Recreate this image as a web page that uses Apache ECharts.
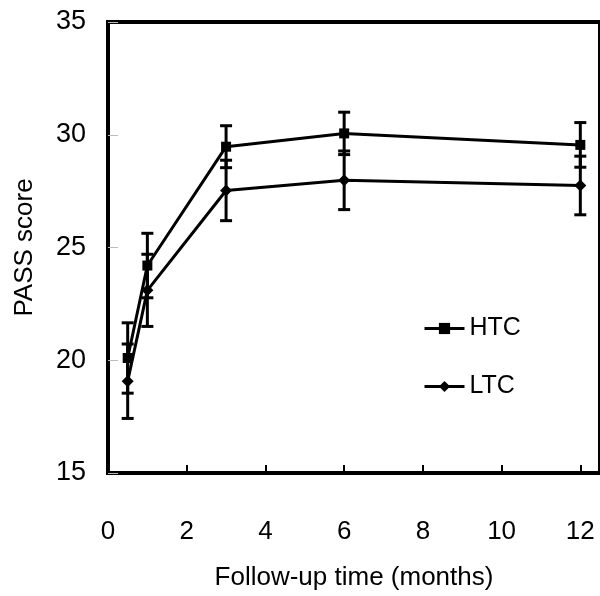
<!DOCTYPE html>
<html>
<head>
<meta charset="utf-8">
<script src="https://cdn.jsdelivr.net/npm/echarts@6/dist/echarts.min.js"></script>
<style>
  html, body { margin: 0; padding: 0; background: #fff; }
  #main { width: 600px; height: 596px; }
</style>
</head>
<body>
<div id="main"></div>
<script>
// follow-up months and PASS scores (mean, SD)
var months = [0.5, 1, 3, 6, 12];
var htcMean = [20.1, 24.2, 29.47, 30.06, 29.55];
var htcSD = [1.56, 1.43, 0.93, 0.94, 0.99];
var ltcMean = [19.07, 23.1, 27.53, 27.98, 27.75];
var ltcSD = [1.65, 1.6, 1.34, 1.3, 1.3];

var FONT = "'Liberation Sans', Arial, sans-serif";

function pairs(xs, ys) {
  return xs.map(function (x, i) { return [x, ys[i]]; });
}
function errData(xs, mean, sd) {
  return xs.map(function (x, i) { return [x, mean[i] - sd[i], mean[i] + sd[i]]; });
}

function renderErr(params, api) {
  var x = api.value(0);
  var lo = api.coord([x, api.value(1)]);
  var hi = api.coord([x, api.value(2)]);
  var w = 6;
  var st = { stroke: '#000', lineWidth: 3 };
  return {
    type: 'group',
    children: [
      { type: 'line', shape: { x1: lo[0], y1: lo[1], x2: hi[0], y2: hi[1] }, style: st },
      { type: 'line', shape: { x1: lo[0] - w, y1: lo[1], x2: lo[0] + w, y2: lo[1] }, style: st },
      { type: 'line', shape: { x1: hi[0] - w, y1: hi[1], x2: hi[0] + w, y2: hi[1] }, style: st }
    ]
  };
}

var chart = echarts.init(document.getElementById('main'));

var option = {
  backgroundColor: '#fff',
  animation: false,
  textStyle: { fontFamily: FONT },
  grid: {
    left: 108,
    top: 22,
    width: 498,
    height: 454,
    show: true,
    borderColor: '#000',
    borderWidth: 4
  },
  legend: {
    orient: 'vertical',
    left: 418,
    top: 311,
    itemWidth: 40,
    itemHeight: 14,
    itemGap: 33,
    lineStyle: { width: 3, color: '#000' },
    textStyle: { fontSize: 25, color: '#000', fontFamily: FONT },
    data: ['HTC', 'LTC']
  },
  xAxis: {
    type: 'value',
    min: 0,
    max: 12.5,
    interval: 2,
    name: 'Follow-up time (months)',
    nameLocation: 'middle',
    nameGap: 92,
    nameTextStyle: { fontSize: 26, color: '#000', fontFamily: FONT },
    axisLine: { lineStyle: { color: '#000', width: 4 } },
    axisTick: { inside: true, length: 8, lineStyle: { color: '#000', width: 2 } },
    axisLabel: { fontSize: 26, color: '#000', margin: 46, showMaxLabel: false, fontFamily: FONT },
    splitLine: { show: false }
  },
  yAxis: {
    type: 'value',
    min: 15,
    max: 35,
    interval: 5,
    name: 'PASS score',
    nameLocation: 'middle',
    nameGap: 70,
    nameTextStyle: { fontSize: 26, color: '#000', fontFamily: FONT },
    axisLine: { show: true, lineStyle: { color: '#000', width: 4 } },
    axisTick: { show: true, inside: true, length: 10, lineStyle: { color: '#bbb', width: 1 } },
    axisLabel: { fontSize: 27, color: '#000', margin: 22, fontFamily: FONT },
    splitLine: { show: false }
  },
  series: [
    {
      name: 'HTC',
      type: 'line',
      data: pairs(months, htcMean),
      symbol: 'rect',
      symbolSize: 10,
      lineStyle: { color: '#000', width: 3 },
      itemStyle: { color: '#000' },
      z: 3
    },
    {
      name: 'LTC',
      type: 'line',
      data: pairs(months, ltcMean),
      symbol: 'diamond',
      symbolSize: 12,
      lineStyle: { color: '#000', width: 3 },
      itemStyle: { color: '#000' },
      z: 3
    },
    {
      type: 'custom',
      renderItem: renderErr,
      data: errData(months, htcMean, htcSD),
      encode: { x: 0, y: [1, 2] },
      z: 2
    },
    {
      type: 'custom',
      renderItem: renderErr,
      data: errData(months, ltcMean, ltcSD),
      encode: { x: 0, y: [1, 2] },
      z: 2
    }
  ]
};

chart.setOption(option);
</script>
</body>
</html>
